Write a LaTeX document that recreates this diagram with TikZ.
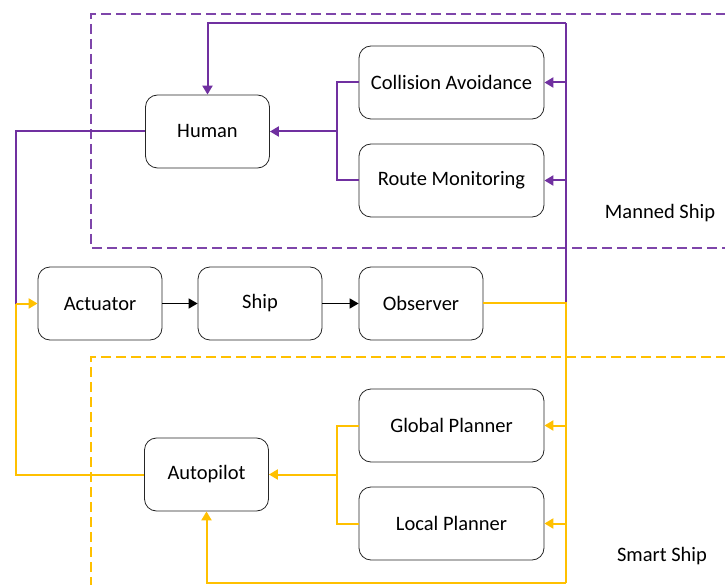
\documentclass[tikz,border=0pt]{standalone}
\usepackage{fontspec}
\setmainfont{Carlito}
\usetikzlibrary{arrows.meta}
\definecolor{mpurple}{HTML}{7030A0}
\definecolor{myellow}{HTML}{FFC000}
\tikzset{
  box/.style={draw=black!85, line width=0.8pt, rounded corners=12pt,
    minimum width=124pt, minimum height=73pt, inner sep=0pt,
    font=\fontsize{20.5}{24}\selectfont},
  widebox/.style={box, minimum width=185pt},
  conn/.style={line width=2pt},
  tip/.style={-{Triangle[length=9pt,width=10pt]}},
  purpleline/.style={conn, draw=mpurple},
  yellowline/.style={conn, draw=myellow},
  blackline/.style={conn, line width=1.6pt, draw=black},
  region/.style={line width=1.1pt, dash pattern=on 10pt off 5pt},
  lbl/.style={font=\fontsize{20.5}{24}\selectfont, inner sep=0pt}
}
\begin{document}
\begin{tikzpicture}[x=1pt,y=-1pt]
\useasboundingbox (0,0) rectangle (725,585);

% dashed regions
\draw[region, draw=mpurple!90] (726,14) -- (91,14) -- (91,248) -- (726,248);
\draw[region, draw=myellow] (726,357) -- (91,357) -- (91,586);

% blocks
\node[box] (hum) at (207.5,131.5) {Human};
\node[widebox] (ca) at (451.5,82.5) {Collision Avoidance};
\node[widebox] (rm) at (451.5,180.5) {Route Monitoring};
\node[box] (act) at (100,303.5) {Actuator};
\node[box] (ship) at (260,303.5) {Ship};
\node[box] (obs) at (421,303.5) {Observer};
\node[widebox] (gp) at (451.5,425.5) {Global Planner};
\node[widebox] (lp) at (451.5,523.5) {Local Planner};
\node[box] (ap) at (206.5,474.5) {Autopilot};

\node[lbl] (manned) at (660,213) {Manned Ship};
\node[lbl] (smart) at (662,556) {Smart Ship};

% junction points
\coordinate (jr) at (566,303);
\coordinate (ptop) at (566,23);
\coordinate (ybot) at (566,583);
\coordinate (pmid) at (337,131.5);
\coordinate (ymid) at (337,474.5);
\coordinate (lj) at (16,303.5);

% main chain
\draw[blackline, tip] (act) -- (ship);
\draw[blackline, tip] (ship) -- (obs);

% manned feedback loop
\draw[purpleline] (jr) -- (ptop);
\draw[purpleline, tip] (ptop) -| (hum.north);
\draw[purpleline, tip] (ptop |- ca.east) -- (ca.east);
\draw[purpleline, tip] (ptop |- rm.east) -- (rm.east);
\draw[purpleline] (ca.west) -| (pmid) |- (rm.west);
\draw[purpleline, tip] (pmid) -- (hum.east);
\draw[purpleline] (hum.west) -| (lj);

% smart feedback loop
\draw[yellowline] (obs.east |- jr) -- (jr) -- (ybot);
\draw[yellowline, tip] (ybot) -| (ap.south);
\draw[yellowline, tip] (ybot |- gp.east) -- (gp.east);
\draw[yellowline, tip] (ybot |- lp.east) -- (lp.east);
\draw[yellowline] (gp.west) -| (ymid) |- (lp.west);
\draw[yellowline, tip] (ymid) -- (ap.east);
\draw[yellowline] (ap.west) -| (lj);
\draw[yellowline, tip] (lj) -- (act.west);
\end{tikzpicture}
\end{document}
